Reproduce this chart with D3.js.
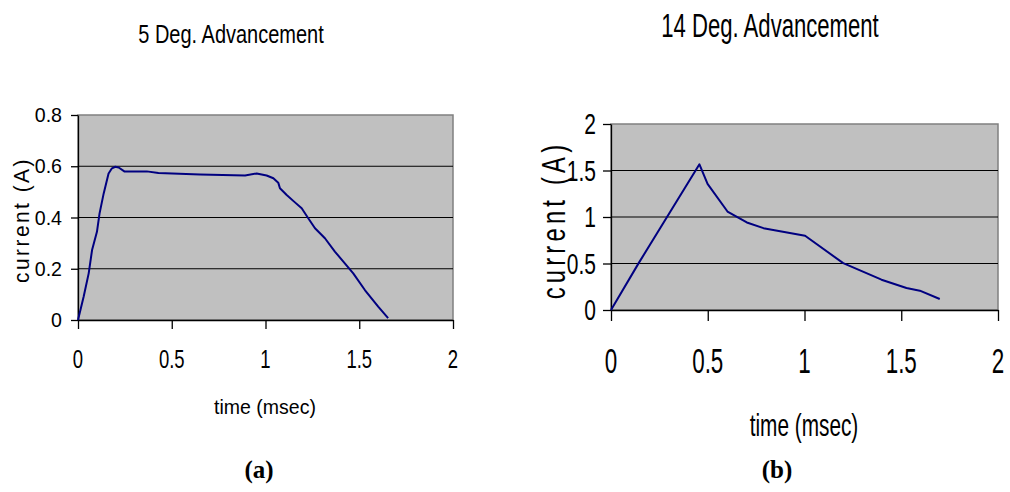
<!DOCTYPE html>
<html>
<head>
<meta charset="utf-8">
<script src="https://cdn.jsdelivr.net/npm/d3@7"></script>
<style>
  html, body { margin: 0; padding: 0; background: #fff; }
  svg { display: block; }
  text { font-family: "Liberation Sans", Arial, sans-serif; fill: #000; }
</style>
</head>
<body>
<svg id="chart" width="1010" height="492"></svg>
<script>
// Coil current waveforms for two advancement angles
const timeTicks = [0, 0.5, 1, 1.5, 2];
const currentTicksA = [0, 0.2, 0.4, 0.6, 0.8];
const currentTicksB = [0, 0.5, 1, 1.5, 2];

// 5 deg. advancement
const timeA = [0, 0.03, 0.057, 0.075, 0.101, 0.115, 0.137, 0.163, 0.181, 0.199, 0.217, 0.247,
  0.367, 0.429, 0.651, 0.891, 0.953, 1.006, 1.042, 1.068, 1.077, 1.113, 1.157, 1.193,
  1.228, 1.264, 1.317, 1.37, 1.468, 1.53, 1.601, 1.654];
const currentA = [0, 0.091, 0.182, 0.273, 0.344, 0.416, 0.494, 0.572, 0.592, 0.598, 0.595, 0.58,
  0.58, 0.574, 0.568, 0.564, 0.572, 0.564, 0.553, 0.536, 0.514, 0.488, 0.459, 0.436,
  0.397, 0.358, 0.319, 0.267, 0.182, 0.117, 0.052, 0.007];

// 14 deg. advancement
const timeB = [0, 0.143, 0.457, 0.499, 0.602, 0.702, 0.788, 1.003, 1.2, 1.398, 1.527, 1.596, 1.699];
const currentB = [0, 0.504, 1.567, 1.356, 1.059, 0.941, 0.88, 0.798, 0.504, 0.326, 0.236, 0.208, 0.118];

const svg = d3.select("#chart");

function addText(parent, x, y, str, o) {
  const t = parent.append("text")
    .attr("transform", `translate(${x},${y})` + (o.rotate ? ` rotate(${o.rotate})` : "") + ` scale(${o.sx || 1},1)`)
    .attr("text-anchor", o.anchor || "middle")
    .style("font-size", o.size + "px")
    .text(str);
  if (o.family) t.style("font-family", o.family);
  if (o.weight) t.style("font-weight", o.weight);
  if (o.spacing) t.style("letter-spacing", o.spacing + "px");
  if (o.baseline) t.attr("dominant-baseline", o.baseline);
  return t;
}

function drawPanel(cfg) {
  const g = svg.append("g");
  const x = d3.scaleLinear().domain([0, 2]).range([cfg.left, cfg.right]);
  const y = d3.scaleLinear().domain([0, cfg.yMax]).range([cfg.bottom, cfg.top]);

  // plot area
  g.append("rect")
    .attr("x", cfg.left).attr("y", cfg.top)
    .attr("width", cfg.right - cfg.left).attr("height", cfg.bottom - cfg.top)
    .attr("fill", "#c0c0c0").attr("stroke", "#808080").attr("stroke-width", 1.5);

  // horizontal gridlines
  g.append("g").selectAll("line")
    .data(cfg.yTicks.filter(v => v > 0 && v < cfg.yMax))
    .join("line")
    .attr("x1", cfg.left).attr("x2", cfg.right)
    .attr("y1", d => y(d)).attr("y2", d => y(d))
    .attr("stroke", "#000").attr("stroke-width", 1);

  // axes (lines and tick marks only; labels drawn below)
  const xAxis = g.append("g")
    .attr("transform", `translate(0,${cfg.bottom})`)
    .call(d3.axisBottom(x).tickValues(timeTicks).tickSize(cfg.xTickLen).tickSizeOuter(0).tickFormat(""));
  const yAxis = g.append("g")
    .attr("transform", `translate(${cfg.left},0)`)
    .call(d3.axisLeft(y).tickValues(cfg.yTicks).tickSize(cfg.yTickLen).tickSizeOuter(0).tickFormat(""));
  [xAxis, yAxis].forEach(a => {
    a.selectAll("path, line").attr("stroke", "#000").attr("stroke-width", 1.3);
  });

  // tick labels
  timeTicks.forEach(v => addText(g, x(v), cfg.xLabelY, d3.format("")(v),
    { size: cfg.xLabelSize, sx: cfg.xLabelSx }));
  cfg.yTicks.forEach(v => addText(g, cfg.yLabelX, y(v), d3.format("")(v),
    { size: cfg.yLabelSize, sx: cfg.yLabelSx, anchor: "end", baseline: "central" }));

  // data line
  const pts = cfg.t.map((t, i) => [t, cfg.c[i]]);
  g.append("path")
    .datum(pts)
    .attr("fill", "none")
    .attr("stroke", "#000080")
    .attr("stroke-width", 2)
    .attr("stroke-linejoin", "round")
    .attr("d", d3.line().x(d => x(d[0])).y(d => y(d[1])));

  // titles
  addText(g, cfg.titleX, cfg.titleY, cfg.title, { size: cfg.titleSize, sx: cfg.titleSx });
  addText(g, cfg.xTitleX, cfg.xTitleY, "time (msec)", { size: cfg.xTitleSize, sx: cfg.xTitleSx });
  addText(g, cfg.yTitleX, cfg.yTitleY, "current (A)",
    { size: cfg.yTitleSize, sx: cfg.yTitleSx, rotate: -90, spacing: cfg.yTitleSpacing });
  addText(g, cfg.capX, cfg.capY, cfg.caption,
    { size: 25, weight: "bold", family: "'Liberation Serif', 'Times New Roman', serif" });
}

drawPanel({
  left: 78, right: 453, top: 115, bottom: 320, yMax: 0.8, yTicks: currentTicksA,
  xTickLen: 9, yTickLen: 7,
  xLabelY: 368, xLabelSize: 25, xLabelSx: 0.74,
  yLabelX: 62, yLabelSize: 20, yLabelSx: 0.98,
  t: timeA, c: currentA,
  title: "5 Deg. Advancement", titleX: 231, titleY: 43, titleSize: 25, titleSx: 0.8,
  xTitleX: 265, xTitleY: 414, xTitleSize: 19.5, xTitleSx: 1,
  yTitleX: 29, yTitleY: 220, yTitleSize: 22, yTitleSx: 0.95, yTitleSpacing: 2.6,
  caption: "(a)", capX: 259, capY: 478
});

drawPanel({
  left: 611, right: 998, top: 124, bottom: 310, yMax: 2, yTicks: currentTicksB,
  xTickLen: 11, yTickLen: 8,
  xLabelY: 373, xLabelSize: 35, xLabelSx: 0.64,
  yLabelX: 596, yLabelSize: 30, yLabelSx: 0.7,
  t: timeB, c: currentB,
  title: "14 Deg. Advancement", titleX: 770, titleY: 37, titleSize: 33, titleSx: 0.67,
  xTitleX: 804, xTitleY: 436, xTitleSize: 32, xTitleSx: 0.65,
  yTitleX: 565, yTitleY: 220, yTitleSize: 34, yTitleSx: 0.7, yTitleSpacing: 6,
  caption: "(b)", capX: 777, capY: 478
});
</script>
</body>
</html>
